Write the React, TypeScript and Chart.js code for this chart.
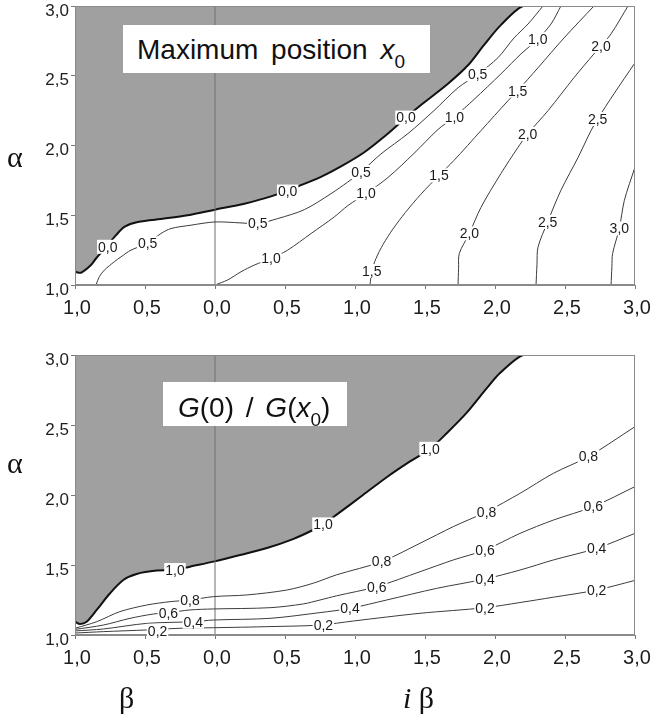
import React, { useEffect, useRef } from "react";
import { Chart, registerables } from "chart.js";

Chart.register(...registerables);

type Pt = [number, number];

// Axis ranges (x < 0 : real beta, labelled by magnitude; x > 0 : imaginary beta)
const X_MIN = -1;
const X_MAX = 3;
const X_STEP = 0.5;
const Y_MIN = 1;
const Y_MAX = 3;
const Y_STEP = 0.5;

// ---------- Top panel: maximum position x0 (points are [beta, alpha]) ----------
const TOP_LEVELS = [0.0, 0.5, 1.0, 1.5, 2.0, 2.5, 3.0];

const TOP_LINE_00: Pt[] = [
  [-1.0, 1.095], [-0.957, 1.088], [-0.886, 1.143], [-0.85, 1.19], [-0.78, 1.27],
  [-0.707, 1.357], [-0.648, 1.417], [-0.552, 1.452], [-0.362, 1.476], [-0.195, 1.5],
  [0.0, 1.54], [0.21, 1.583], [0.4, 1.635], [0.6, 1.71], [0.757, 1.775],
  [0.9, 1.85], [1.064, 1.95], [1.236, 2.086], [1.364, 2.2], [1.471, 2.29],
  [1.664, 2.443], [1.807, 2.575], [1.921, 2.72], [2.043, 2.865], [2.2, 3.0], [2.38, 3.0],
];
const TOP_LINE_05: Pt[] = [
  [-0.85, 1.0], [-0.826, 1.06], [-0.79, 1.107], [-0.719, 1.167], [-0.671, 1.202],
  [-0.6, 1.25], [-0.48, 1.3], [-0.386, 1.369], [-0.314, 1.405], [-0.171, 1.429],
  [0.0, 1.452], [0.186, 1.445], [0.305, 1.44], [0.448, 1.476], [0.638, 1.54],
  [0.829, 1.655], [0.948, 1.738], [1.043, 1.81], [1.186, 1.94], [1.379, 2.086],
  [1.564, 2.25], [1.736, 2.414], [1.876, 2.51], [2.021, 2.629], [2.136, 2.771],
  [2.236, 2.871], [2.343, 3.0],
];
const TOP_LINE_10: Pt[] = [
  [0.0, 1.0], [0.09, 1.036], [0.186, 1.095], [0.281, 1.143], [0.4, 1.19],
  [0.519, 1.25], [0.686, 1.369], [0.852, 1.488], [0.95, 1.57], [1.079, 1.655],
  [1.236, 1.771], [1.421, 1.943], [1.593, 2.115], [1.71, 2.205], [1.85, 2.33],
  [2.043, 2.514], [2.186, 2.657], [2.305, 2.762], [2.4, 2.871], [2.471, 3.0],
];
const TOP_LINE_15: Pt[] = [
  [1.107, 1.0], [1.12, 1.1], [1.15, 1.19], [1.2, 1.29], [1.27, 1.4],
  [1.36, 1.52], [1.47, 1.65], [1.6, 1.786], [1.707, 1.893], [1.9, 2.107],
  [2.093, 2.321], [2.162, 2.393], [2.307, 2.557], [2.493, 2.771], [2.707, 3.0],
];
const TOP_LINE_20: Pt[] = [
  [1.736, 1.0], [1.74, 1.12], [1.745, 1.226], [1.817, 1.37], [1.9, 1.557],
  [2.043, 1.8], [2.164, 1.986], [2.233, 2.083], [2.379, 2.25], [2.564, 2.486],
  [2.707, 2.657], [2.757, 2.714], [2.829, 2.8], [2.95, 3.0],
];
const TOP_LINE_25: Pt[] = [
  [2.293, 1.0], [2.3, 1.15], [2.307, 1.271], [2.376, 1.452], [2.471, 1.679],
  [2.593, 1.914], [2.686, 2.107], [2.733, 2.19], [2.85, 2.371], [3.0, 2.593],
];
const TOP_LINE_30: Pt[] = [
  [2.829, 1.0], [2.835, 1.13], [2.84, 1.226], [2.888, 1.405], [2.924, 1.607], [3.0, 1.845],
];

const TOP_LABELS_00: Pt[] = [[-0.766, 1.274], [0.519, 1.67], [1.364, 2.2]];
const TOP_LABELS_05: Pt[] = [[-0.481, 1.298], [0.305, 1.44], [1.043, 1.81], [1.876, 2.51]];
const TOP_LABELS_10: Pt[] = [[0.4, 1.19], [1.079, 1.655], [1.71, 2.205], [2.305, 2.762]];
const TOP_LABELS_15: Pt[] = [[1.12, 1.1], [1.6, 1.786], [2.162, 2.393]];
const TOP_LABELS_20: Pt[] = [[1.817, 1.37], [2.233, 2.083], [2.757, 2.714]];
const TOP_LABELS_25: Pt[] = [[2.376, 1.452], [2.733, 2.19]];
const TOP_LABELS_30: Pt[] = [[2.888, 1.405]];

// ---------- Bottom panel: G(0) / G(x0) ----------
const BOT_LEVELS = [1.0, 0.8, 0.6, 0.4, 0.2];

const BOT_LINE_10: Pt[] = [
  [-1.0, 1.095], [-0.964, 1.079], [-0.917, 1.095], [-0.845, 1.179], [-0.75, 1.298],
  [-0.655, 1.393], [-0.56, 1.436], [-0.417, 1.46], [-0.286, 1.464], [-0.179, 1.488],
  [-0.012, 1.524], [0.179, 1.571], [0.371, 1.621], [0.557, 1.685], [0.7, 1.75],
  [0.771, 1.79], [0.869, 1.86], [1.057, 2.0], [1.229, 2.129], [1.393, 2.24],
  [1.536, 2.33], [1.657, 2.443], [1.8, 2.59], [1.943, 2.765], [2.036, 2.871],
  [2.2, 3.0], [2.371, 3.0],
];
const BOT_LINE_08: Pt[] = [
  [-1.0, 1.048], [-0.845, 1.095], [-0.679, 1.167], [-0.488, 1.214], [-0.321, 1.238],
  [-0.179, 1.25], [-0.012, 1.274], [0.226, 1.286], [0.512, 1.321], [0.702, 1.37],
  [0.869, 1.43], [1.19, 1.524], [1.464, 1.655], [1.702, 1.774], [1.94, 1.881],
  [2.179, 2.012], [2.417, 2.155], [2.667, 2.274], [3.0, 2.488],
];
const BOT_LINE_06: Pt[] = [
  [-1.0, 1.04], [-0.798, 1.071], [-0.607, 1.119], [-0.44, 1.15], [-0.333, 1.159],
  [-0.179, 1.179], [-0.012, 1.186], [0.393, 1.195], [0.631, 1.222], [0.75, 1.25],
  [0.869, 1.28], [1.155, 1.345], [1.464, 1.452], [1.702, 1.536], [1.929, 1.607],
  [2.179, 1.726], [2.417, 1.821], [2.702, 1.917], [3.0, 2.06],
];
const BOT_LINE_04: Pt[] = [
  [-1.0, 1.029], [-0.798, 1.043], [-0.488, 1.083], [-0.155, 1.095], [-0.012, 1.107],
  [0.393, 1.119], [0.75, 1.16], [0.964, 1.19], [1.226, 1.25], [1.583, 1.333],
  [1.929, 1.4], [2.179, 1.464], [2.417, 1.536], [2.726, 1.619], [3.0, 1.726],
];
const BOT_LINE_02: Pt[] = [
  [-1.0, 1.014], [-0.798, 1.024], [-0.488, 1.036], [-0.25, 1.048], [-0.012, 1.052],
  [0.393, 1.06], [0.75, 1.071], [0.988, 1.1], [1.464, 1.155], [1.929, 1.195],
  [2.179, 1.232], [2.417, 1.27], [2.726, 1.321], [3.0, 1.39],
];

const BOT_LABELS_10: Pt[] = [[-0.286, 1.464], [0.771, 1.79], [1.536, 2.33]];
const BOT_LABELS_08: Pt[] = [[-0.179, 1.25], [1.19, 1.524], [1.94, 1.881], [2.667, 2.274]];
const BOT_LABELS_06: Pt[] = [[-0.333, 1.159], [1.155, 1.345], [1.929, 1.607], [2.702, 1.917]];
const BOT_LABELS_04: Pt[] = [[-0.155, 1.095], [0.964, 1.19], [1.929, 1.4], [2.726, 1.619]];
const BOT_LABELS_02: Pt[] = [[-0.41, 1.03], [0.774, 1.071], [1.929, 1.195], [2.726, 1.321]];

// ---------- building ----------
type Contour = { level: number; line: Pt[]; labels: Pt[]; boundary: boolean };

const TOP_CONTOURS: Contour[] = [
  { level: TOP_LEVELS[0], line: TOP_LINE_00, labels: TOP_LABELS_00, boundary: true },
  { level: TOP_LEVELS[1], line: TOP_LINE_05, labels: TOP_LABELS_05, boundary: false },
  { level: TOP_LEVELS[2], line: TOP_LINE_10, labels: TOP_LABELS_10, boundary: false },
  { level: TOP_LEVELS[3], line: TOP_LINE_15, labels: TOP_LABELS_15, boundary: false },
  { level: TOP_LEVELS[4], line: TOP_LINE_20, labels: TOP_LABELS_20, boundary: false },
  { level: TOP_LEVELS[5], line: TOP_LINE_25, labels: TOP_LABELS_25, boundary: false },
  { level: TOP_LEVELS[6], line: TOP_LINE_30, labels: TOP_LABELS_30, boundary: false },
];
const BOT_CONTOURS: Contour[] = [
  { level: BOT_LEVELS[0], line: BOT_LINE_10, labels: BOT_LABELS_10, boundary: true },
  { level: BOT_LEVELS[1], line: BOT_LINE_08, labels: BOT_LABELS_08, boundary: false },
  { level: BOT_LEVELS[2], line: BOT_LINE_06, labels: BOT_LABELS_06, boundary: false },
  { level: BOT_LEVELS[3], line: BOT_LINE_04, labels: BOT_LABELS_04, boundary: false },
  { level: BOT_LEVELS[4], line: BOT_LINE_02, labels: BOT_LABELS_02, boundary: false },
];

const SANS = '"Liberation Sans", Arial, Helvetica, sans-serif';
const SERIF = '"Liberation Serif", "Times New Roman", serif';
const fmt = (v: number) => Math.abs(v).toFixed(1).replace(".", ",");

const framePlugin = {
  id: "frame",
  afterDatasetsDraw(chart: any) {
    const { ctx, chartArea: a } = chart;
    ctx.save();
    ctx.strokeStyle = "#8a8a8a";
    ctx.lineWidth = 1;
    ctx.strokeRect(a.left + 0.5, a.top + 0.5, a.right - a.left - 1, a.bottom - a.top - 1);
    ctx.restore();
  },
};

const makeLabelPlugin = (contours: Contour[]) => ({
  id: "contourLabels",
  afterDatasetsDraw(chart: any) {
    const { ctx } = chart;
    const xs = chart.scales.x;
    const ys = chart.scales.y;
    ctx.save();
    ctx.font = `14px ${SANS}`;
    ctx.textAlign = "center";
    ctx.textBaseline = "middle";
    for (const c of contours) {
      const text = fmt(c.level);
      const w = ctx.measureText(text).width;
      for (const [lx, ly] of c.labels) {
        const px = xs.getPixelForValue(lx);
        const py = ys.getPixelForValue(ly);
        ctx.fillStyle = "#ffffff";
        ctx.fillRect(px - w / 2 - 1, py - 7, w + 2, 14);
        ctx.fillStyle = "#1a1a1a";
        ctx.fillText(text, px, py + 1);
      }
    }
    ctx.restore();
  },
});

function buildConfig(contours: Contour[], padTop: number, axisHeight: number): any {
  const datasets: any[] = contours.map((c) => ({
    data: c.line.map(([x, y]) => ({ x, y })),
    borderColor: c.boundary ? "#111111" : "#3c3c3c",
    borderWidth: c.boundary ? 2 : 1,
    backgroundColor: "#a0a0a0",
    fill: c.boundary ? "end" : false,
    pointRadius: 0,
    tension: 0.3,
    order: c.boundary ? 5 : 1,
  }));
  datasets.push({
    data: [
      { x: 0, y: Y_MIN },
      { x: 0, y: Y_MAX },
    ],
    borderColor: "#707070",
    borderWidth: 1,
    pointRadius: 0,
    fill: false,
    order: 3,
  });
  return {
    type: "line",
    data: { datasets },
    options: {
      responsive: false,
      animation: false,
      events: [],
      layout: { padding: { left: 0, right: 19, top: padTop, bottom: 0 } },
      plugins: { legend: { display: false }, tooltip: { enabled: false } },
      scales: {
        x: {
          type: "linear",
          min: X_MIN,
          max: X_MAX,
          ticks: {
            stepSize: X_STEP,
            callback: (v: any) => fmt(Number(v)),
            font: { size: 20, family: SANS },
            color: "#1e1e1e",
            padding: 7,
            maxRotation: 0,
            autoSkip: false,
            labelOffset: 2,
          },
          grid: { drawOnChartArea: false, tickLength: 4, color: "#777" },
          border: { color: "#8a8a8a" },
          afterFit: (s: any) => {
            s.height = axisHeight;
            s.paddingLeft = 0;
            s.paddingRight = 0;
          },
        },
        y: {
          type: "linear",
          min: Y_MIN,
          max: Y_MAX,
          ticks: {
            stepSize: Y_STEP,
            callback: (v: any) => fmt(Number(v)),
            font: { size: 17, family: SANS },
            color: "#1e1e1e",
            padding: 2,
            labelOffset: 5,
          },
          grid: { drawOnChartArea: false, tickLength: 4, color: "#777" },
          border: { color: "#8a8a8a" },
          afterFit: (s: any) => {
            s.width = 75;
            s.paddingTop = 0;
            s.paddingBottom = 0;
          },
        },
      },
    },
    plugins: [framePlugin, makeLabelPlugin(contours)],
  };
}

const abs = (left: number, top: number): React.CSSProperties => ({
  position: "absolute",
  left,
  top,
  whiteSpace: "nowrap",
  color: "#111",
});

export default function App() {
  const topRef = useRef<HTMLCanvasElement>(null);
  const botRef = useRef<HTMLCanvasElement>(null);

  useEffect(() => {
    const c1 = new Chart(topRef.current as HTMLCanvasElement, buildConfig(TOP_CONTOURS, 6, 55));
    const c2 = new Chart(botRef.current as HTMLCanvasElement, buildConfig(BOT_CONTOURS, 15, 85));
    return () => {
      c1.destroy();
      c2.destroy();
    };
  }, []);

  const greek: React.CSSProperties = { font: `30px ${SERIF}`, lineHeight: "30px" };
  const title: React.CSSProperties = { font: `28px ${SANS}`, lineHeight: "28px" };
  const sub: React.CSSProperties = { fontSize: 19, position: "relative", top: 9, lineHeight: 0 };

  return (
    <div style={{ position: "absolute", left: 0, top: 0, width: 654, height: 720, background: "#fff", overflow: "hidden" }}>
      <canvas ref={topRef} width={654} height={340} style={{ position: "absolute", left: 0, top: 0, width: 654, height: 340 }} />
      <canvas ref={botRef} width={654} height={380} style={{ position: "absolute", left: 0, top: 340, width: 654, height: 380 }} />

      <div style={{ position: "absolute", left: 123, top: 25, width: 307, height: 48, background: "#fff" }}>
        <span style={{ ...abs(14, 11), ...title, wordSpacing: 5 }}>
          Maximum position <i>x</i>
          <span style={sub}>0</span>
        </span>
      </div>
      <div style={{ position: "absolute", left: 163, top: 382, width: 184, height: 44, background: "#fff" }}>
        <span style={{ ...abs(15, 12), ...title, wordSpacing: 4 }}>
          <i>G</i>(0) / <i>G</i>(<i>x</i>
          <span style={sub}>0</span>)
        </span>
      </div>

      <span style={{ ...abs(7, 142), ...greek }}>α</span>
      <span style={{ ...abs(7, 448), ...greek }}>α</span>
      <span style={{ ...abs(119, 683), ...greek }}>β</span>
      <span style={{ ...abs(403, 683), ...greek }}>
        <i>i</i> β
      </span>
    </div>
  );
}
